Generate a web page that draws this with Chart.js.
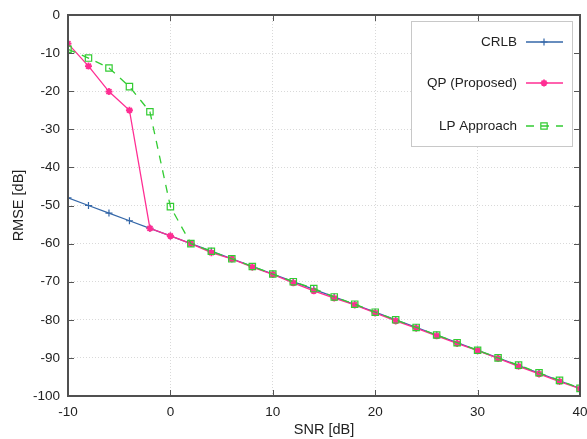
<!DOCTYPE html>
<html>
<head>
<meta charset="utf-8">
<script src="https://cdn.jsdelivr.net/npm/chart.js@4"></script>
<style>
  html, body { margin: 0; padding: 0; background: #fff; }
  #wrap { width: 587px; height: 439px; }
</style>
</head>
<body>
<div id="wrap"><canvas id="c" width="587" height="439"></canvas></div>
<script>
const snr = [-10, -8, -6, -4, -2, 0, 2, 4, 6, 8, 10, 12, 14, 16, 18, 20, 22, 24, 26, 28, 30, 32, 34, 36, 38, 40];
const crlb = [-48, -50, -52, -54, -56, -58, -60, -62, -64, -66, -68, -70, -72, -74, -76, -78, -80, -82, -84, -86, -88, -90, -92, -94, -96, -98];
const qp = [-7.5, -13.4, -20.1, -25, -56, -58, -60, -62.4, -64, -66.2, -68.1, -70.3, -72.4, -74.3, -76.1, -78.2, -80.3, -82.2, -84.2, -86.2, -88.1, -90.1, -92.2, -94.2, -96.2, -98.1];
const lp = [-9, -11.3, -13.9, -18.8, -25.4, -50.3, -60, -62, -64, -66, -68, -70, -71.8, -74, -75.9, -78, -80, -82, -84, -86, -88, -90, -91.9, -93.9, -95.9, -98];

const labels = ["CRLB", "QP (Proposed)", "LP Approach"];
const colors = ["#3467a8", "#ff2e93", "#33cc33"];

const font = "Liberation Sans, Arial, sans-serif";

const pts = (ys) => snr.map((x, i) => ({ x: x, y: ys[i] }));

// gnuplot-style frame, inward ticks and the legend box
const framePlugin = {
  id: "frame",
  afterDraw(chart) {
    const ctx = chart.ctx;
    const a = chart.chartArea;
    const xs = chart.scales.x, ys = chart.scales.y;
    ctx.save();
    ctx.strokeStyle = "#555";
    ctx.lineWidth = 1;
    ctx.beginPath();
    xs.ticks.forEach((t) => {
      const px = Math.round(xs.getPixelForValue(t.value)) + 0.5;
      ctx.moveTo(px, a.bottom); ctx.lineTo(px, a.bottom - 6);
      ctx.moveTo(px, a.top); ctx.lineTo(px, a.top + 6);
    });
    ys.ticks.forEach((t) => {
      const py = Math.round(ys.getPixelForValue(t.value)) + 0.5;
      ctx.moveTo(a.left, py); ctx.lineTo(a.left + 6, py);
      ctx.moveTo(a.right, py); ctx.lineTo(a.right - 6, py);
    });
    ctx.stroke();
    ctx.lineWidth = 2;
    ctx.strokeStyle = "#505050";
    ctx.strokeRect(a.left, a.top, a.right - a.left, a.bottom - a.top);

    // legend
    const bx = 411, by = 21, bw = 161, bh = 125;
    ctx.fillStyle = "#fff";
    ctx.fillRect(bx, by, bw, bh);
    ctx.lineWidth = 1;
    ctx.strokeStyle = "#c8c8c8";
    ctx.strokeRect(bx + 0.5, by + 0.5, bw, bh);
    const rows = [42, 83, 126];
    chart.data.datasets.forEach((ds, i) => {
      const y = rows[i];
      ctx.fillStyle = "#222";
      ctx.font = "13.5px " + font;
      ctx.textAlign = "right";
      ctx.textBaseline = "middle";
      ctx.fillText(labels[i], 517, y);
      ctx.strokeStyle = ds.borderColor;
      ctx.fillStyle = ds.backgroundColor;
      ctx.lineWidth = ds.borderWidth;
      ctx.setLineDash(ds.borderDash || []);
      ctx.beginPath();
      ctx.moveTo(526, y); ctx.lineTo(563, y);
      ctx.stroke();
      ctx.setLineDash([]);
      ctx.lineWidth = ds.pointBorderWidth;
      Chart.helpers.drawPoint(ctx, {
        pointStyle: ds.pointStyle,
        radius: ds.pointRadius,
        borderWidth: ds.pointBorderWidth,
        rotation: 0
      }, 544, y);
    });
    ctx.restore();
  }
};

new Chart(document.getElementById("c"), {
  type: "line",
  data: {
    datasets: [
      {
        label: labels[0],
        data: pts(crlb),
        borderColor: colors[0],
        backgroundColor: colors[0],
        borderWidth: 1.3,
        pointStyle: "cross",
        pointRadius: 3.5,
        pointBorderWidth: 1.2,
        order: 2
      },
      {
        label: labels[1],
        data: pts(qp),
        borderColor: colors[1],
        backgroundColor: colors[1],
        borderWidth: 1.3,
        pointStyle: "star",
        pointRadius: 3.5,
        pointBorderWidth: 1.8,
        order: 1
      },
      {
        label: labels[2],
        data: pts(lp),
        borderColor: colors[2],
        backgroundColor: "rgba(0,0,0,0)",
        borderWidth: 1.3,
        borderDash: [8, 7],
        pointStyle: "rect",
        pointRadius: 4.5,
        pointBorderWidth: 1.2,
        order: 0
      }
    ]
  },
  options: {
    responsive: false,
    animation: false,
    layout: { padding: { left: 10, right: 7, top: 15, bottom: 0 } },
    plugins: {
      legend: { display: false },
      tooltip: { enabled: false }
    },
    scales: {
      x: {
        type: "linear",
        min: -10,
        max: 40,
        afterFit: (s) => {
          s.height = 43;
          s.paddingLeft = 0;
          s.paddingRight = 0;
        },
        ticks: {
          stepSize: 10,
          padding: 8,
          color: "#222",
          font: { family: font, size: 13.5 }
        },
        grid: {
          color: "#d9d9d9",
          lineWidth: 1,
          drawTicks: false,
          tickLength: 0
        },
        border: { display: false, dash: [1, 2] },
        title: {
          display: true,
          text: "SNR [dB]",
          color: "#222",
          font: { family: font, size: 14.5 },
          padding: { top: 0, bottom: 0 }
        }
      },
      y: {
        min: -100,
        max: 0,
        afterFit: (s) => {
          s.width = 58;
          s.paddingTop = 0;
          s.paddingBottom = 0;
        },
        ticks: {
          stepSize: 10,
          padding: 8,
          color: "#222",
          font: { family: font, size: 13.5 }
        },
        grid: {
          color: "#d9d9d9",
          lineWidth: 1,
          drawTicks: false,
          tickLength: 0
        },
        border: { display: false, dash: [1, 2] },
        title: {
          display: true,
          text: "RMSE [dB]",
          color: "#222",
          font: { family: font, size: 14.5 },
          padding: { top: 0, bottom: 4 }
        }
      }
    }
  },
  plugins: [framePlugin]
});
</script>
</body>
</html>
